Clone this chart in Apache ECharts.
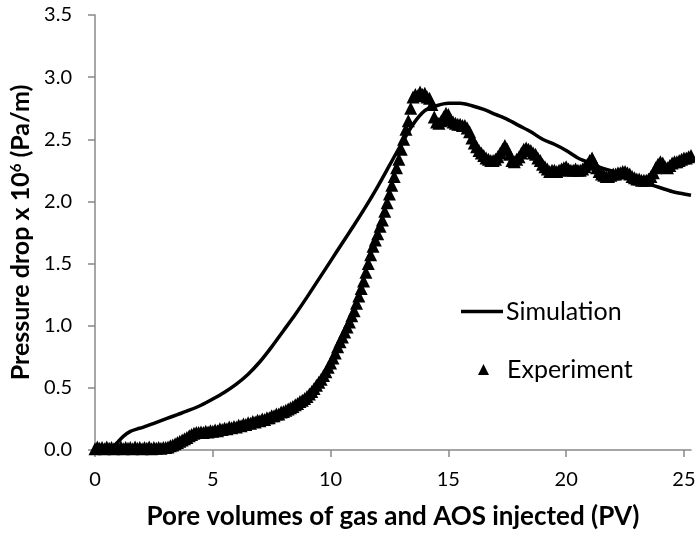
<!DOCTYPE html>
<html>
<head>
<meta charset="utf-8">
<script src="https://cdn.jsdelivr.net/npm/echarts@6/dist/echarts.min.js"></script>
<style>html,body{margin:0;padding:0;background:#fff;}#c{width:695px;height:533px;}</style>
</head>
<body>
<div id="c"></div>
<script>
// Simulation curve (PV, Pa/m x 1e6)
var simX = [0,0.6,0.9,1.2,1.5,1.8,2.0,2.5,3.0,3.5,4.0,4.5,5.0,5.5,6.0,6.5,7.0,7.5,8.0,8.5,9.0,9.5,10.0,10.5,11.0,11.5,12.0,12.5,13.0,13.5,14.0,14.5,15.0,15.5,16.0,16.5,17.0,17.5,18.0,18.5,19.0,19.5,20.0,20.5,21.0,21.5,22.0,22.5,23.0,23.5,24.0,24.5,25.0,25.3];
var simY = [0,0.0,0.05,0.11,0.15,0.17,0.18,0.215,0.25,0.285,0.32,0.36,0.41,0.465,0.53,0.61,0.71,0.83,0.96,1.09,1.23,1.375,1.52,1.665,1.81,1.96,2.12,2.29,2.46,2.62,2.73,2.77,2.79,2.79,2.77,2.74,2.7,2.66,2.61,2.56,2.5,2.46,2.41,2.35,2.31,2.27,2.24,2.2,2.17,2.14,2.11,2.08,2.06,2.05];

// Experiment points
var expX = [0,0.1,0.2,0.3,0.4,0.5,0.6,0.7,0.8,0.9,1.0,1.1,1.2,1.3,1.4,1.5,1.6,1.7,1.8,1.9,2.0,2.1,2.2,2.3,2.4,2.5,2.6,2.7,2.8,2.9,
  3.0,3.1,3.2,3.3,3.4,3.5,3.6,3.7,3.8,3.9,4.0,4.1,4.2,4.3,4.4,4.5,4.6,4.7,4.8,4.9,
  5.0,5.1,5.2,5.3,5.4,5.5,5.6,5.7,5.8,5.9,6.0,6.1,6.2,6.3,6.4,6.5,6.6,6.7,6.8,6.9,
  7.0,7.1,7.2,7.3,7.4,7.5,7.6,7.7,7.8,7.9,8.0,8.1,8.2,8.3,8.4,8.5,8.6,8.7,8.8,8.9,
  9.0,9.1,9.2,9.3,9.4,9.5,9.6,9.7,9.8,9.9,10.0,10.1,10.2,10.3,10.4,10.5,10.6,10.7,10.8,10.9,
  11.0,11.1,11.2,11.3,11.4,11.5,11.6,11.7,11.8,11.9,12.0,12.1,12.2,12.3,12.4,12.5,12.6,12.7,12.8,12.9,
  13.0,13.1,13.2,13.3,13.4,13.5,13.6,13.7,13.8,13.9,14.0,14.1,14.2,14.3,14.4,14.5,14.6,14.7,14.8,14.9,
  15.0,15.1,15.2,15.3,15.4,15.5,15.6,15.7,15.8,15.9,16.0,16.1,16.2,16.3,16.4,16.5,16.6,16.7,16.8,16.9,
  17.0,17.1,17.2,17.3,17.4,17.5,17.6,17.7,17.8,17.9,18.0,18.1,18.2,18.3,18.4,18.5,18.6,18.7,18.8,18.9,
  19.0,19.1,19.2,19.3,19.4,19.5,19.6,19.7,19.8,19.9,20.0,20.1,20.2,20.3,20.4,20.5,20.6,20.7,20.8,20.9,
  21.0,21.1,21.2,21.3,21.4,21.5,21.6,21.7,21.8,21.9,22.0,22.1,22.2,22.3,22.4,22.5,22.6,22.7,22.8,22.9,
  23.0,23.1,23.2,23.3,23.4,23.5,23.6,23.7,23.8,23.9,24.0,24.1,24.2,24.3,24.4,24.5,24.6,24.7,24.8,24.9,
  25.0,25.1,25.2,25.3];
var expY = [0.01,0.025,0.015,0.02,0.01,0.025,0.015,0.02,0.01,0.02,0.015,0.025,0.01,0.02,0.015,0.02,0.01,0.025,0.015,0.02,0.01,0.02,0.015,0.025,0.01,0.02,0.015,0.02,0.015,0.02,
  0.02,0.025,0.035,0.04,0.05,0.06,0.07,0.08,0.09,0.1,0.115,0.125,0.135,0.14,0.14,0.145,0.14,0.15,0.145,0.155,
  0.15,0.16,0.155,0.17,0.165,0.175,0.17,0.185,0.18,0.19,0.185,0.2,0.195,0.21,0.205,0.22,0.215,0.23,0.225,0.24,
  0.235,0.25,0.245,0.26,0.26,0.275,0.275,0.29,0.29,0.305,0.31,0.32,0.33,0.34,0.35,0.365,0.375,0.39,0.4,0.415,
  0.43,0.45,0.47,0.495,0.52,0.545,0.57,0.6,0.63,0.665,0.7,0.74,0.78,0.83,0.87,0.91,0.95,0.99,1.03,1.08,
  1.12,1.18,1.24,1.3,1.36,1.43,1.5,1.57,1.64,1.69,1.74,1.8,1.85,1.92,1.99,2.06,2.13,2.2,2.27,2.34,
  2.42,2.5,2.58,2.65,2.75,2.84,2.86,2.85,2.88,2.86,2.87,2.84,2.83,2.78,2.68,2.64,2.63,2.65,2.68,2.71,
  2.7,2.66,2.64,2.63,2.62,2.62,2.61,2.61,2.59,2.56,2.51,2.47,2.44,2.41,2.39,2.37,2.35,2.34,2.33,2.33,
  2.34,2.36,2.39,2.42,2.45,2.42,2.38,2.33,2.32,2.34,2.36,2.39,2.42,2.43,2.42,2.41,2.39,2.38,2.35,2.33,
  2.3,2.28,2.26,2.24,2.25,2.25,2.24,2.25,2.26,2.27,2.28,2.26,2.25,2.25,2.26,2.25,2.25,2.26,2.28,2.3,
  2.33,2.35,2.31,2.27,2.24,2.22,2.21,2.2,2.2,2.21,2.22,2.22,2.23,2.23,2.24,2.24,2.23,2.22,2.2,2.19,
  2.18,2.18,2.17,2.17,2.17,2.18,2.2,2.23,2.27,2.3,2.32,2.31,2.28,2.27,2.29,2.31,2.32,2.32,2.33,2.34,
  2.35,2.35,2.36,2.37];

var xTicks = [0,5,10,15,20,25];
var yTicks = [0,0.5,1.0,1.5,2.0,2.5,3.0,3.5];

function zip(a,b){var r=[];for(var i=0;i<a.length;i++)r.push([a[i],b[i]]);return r;}

var FONT = 'Lato';
var chart = echarts.init(document.getElementById('c'), null, {renderer:'canvas'});
chart.setOption({
  animation:false,
  backgroundColor:'#fff',
  grid:{left:95,right:4,top:15,bottom:83,containLabel:false,outerBoundsMode:'none'},
  xAxis:{
    type:'value',min:0,max:25.3,interval:5,
    name:'Pore volumes of gas and AOS injected (PV)',
    nameLocation:'middle',nameGap:54,
    nameTextStyle:{fontFamily:FONT,fontWeight:'bold',fontSize:26,color:'#000'},
    axisLine:{show:true,lineStyle:{color:'#888',width:1.5}},
    axisTick:{show:true,inside:false,length:7,lineStyle:{color:'#888',width:1.5},customValues:xTicks},
    axisLabel:{fontFamily:FONT,fontSize:20,color:'#000',margin:20,customValues:xTicks},
    splitLine:{show:false}
  },
  yAxis:{
    type:'value',min:0,max:3.5,interval:0.5,
    name:'Pressure drop x 10{sup|6} (Pa/m)',
    nameLocation:'middle',nameGap:60,nameRotate:90,
    nameTextStyle:{fontFamily:FONT,fontWeight:'bold',fontSize:25,color:'#000',
      rich:{sup:{fontFamily:FONT,fontWeight:'bold',fontSize:15,color:'#000',verticalAlign:'top',padding:[0,0,9,0]}}},
    axisLine:{show:true,lineStyle:{color:'#888',width:1.5}},
    axisTick:{show:true,inside:false,length:7,lineStyle:{color:'#888',width:1.5},customValues:yTicks},
    axisLabel:{fontFamily:FONT,fontSize:20,color:'#000',margin:23,customValues:yTicks,
      formatter:function(v){return v.toFixed(1);}},
    splitLine:{show:false}
  },
  legend:[
    {data:[{name:'Simulation',icon:'rect'}],left:461,top:299,padding:0,itemWidth:42,itemHeight:3.5,
     textStyle:{fontFamily:FONT,fontSize:25,color:'#000',padding:[0,0,0,-2]}},
    {data:['Experiment'],left:478,top:357,padding:0,itemWidth:11,itemHeight:11,
     textStyle:{fontFamily:FONT,fontSize:25,color:'#000',padding:[0,0,0,13]}}
  ],
  series:[
    {name:'Experiment',type:'scatter',data:zip(expX,expY),symbol:'triangle',symbolSize:13,
     itemStyle:{color:'#000',opacity:1},z:2},
    {name:'Simulation',type:'line',data:zip(simX,simY),smooth:0.3,symbol:'none',showSymbol:false,
     lineStyle:{color:'#000',width:3.5},itemStyle:{color:'#000'},z:3}
  ]
});
</script>
</body>
</html>
